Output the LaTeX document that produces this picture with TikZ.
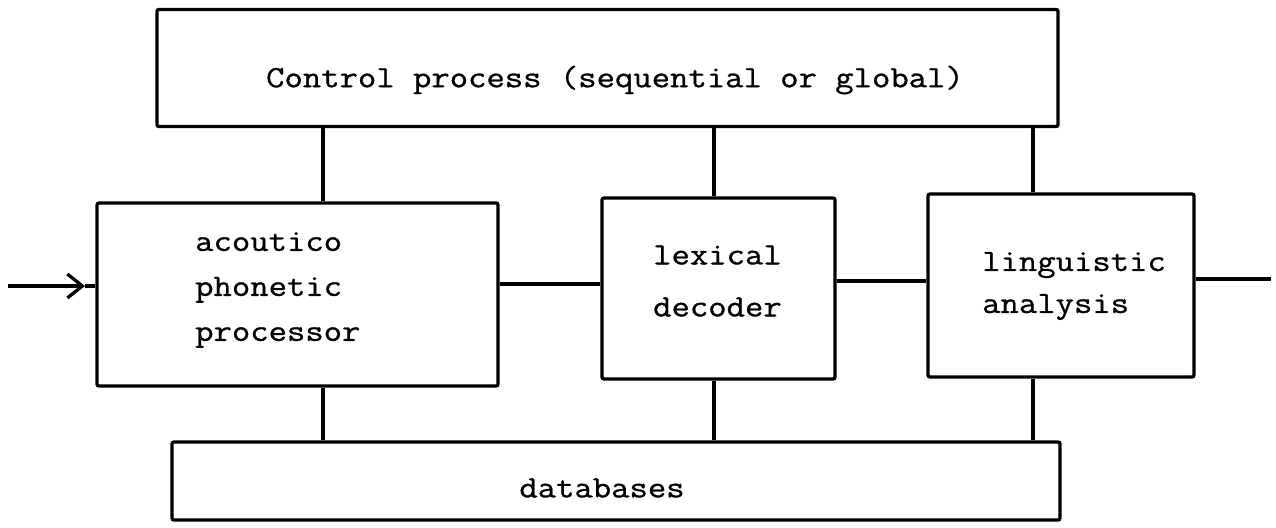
\documentclass[tikz,border=0pt]{standalone}
\usepackage{fontspec}
\newfontfamily\typewriter[FakeStretch=1.15, FakeBold=0.9]{Latin Modern Mono}
\usetikzlibrary{arrows.meta}

\tikzset{
  block/.style={draw, line width=3.3pt, rounded corners=2pt, inner sep=0pt},
  wire/.style={line width=3.3pt},
  inarrow/.style={line width=3.3pt, -{Straight Barb[length=15pt,width=24pt,line width=3.3pt]}},
  label/.style={inner sep=0pt, align=left, anchor=west}
}

\begin{document}
\begin{tikzpicture}[x=1pt, y=-1pt]
  \useasboundingbox (0,0) rectangle (1276,527);

  % boxes
  \node[block, minimum width=901pt, minimum height=117pt] (ctl)  at (607.5,68)  {};
  \node[block, minimum width=401pt, minimum height=183pt] (ap)   at (297.5,294.5) {};
  \node[block, minimum width=233pt, minimum height=181pt] (lex)  at (718.5,288.5) {};
  \node[block, minimum width=266pt, minimum height=183pt] (ling) at (1061,285.5) {};
  \node[block, minimum width=888pt, minimum height=78pt]  (db)   at (616,481)   {};

  % texts
  \node[inner sep=0pt, font=\typewriter\fontsize{31}{36}\selectfont] (tctl) at (615,80)
    {Control process (sequential or global)};
  \node[label, font=\typewriter\fontsize{31}{45}\selectfont] (tap) at (195,290)
    {acoutico\\phonetic\\processor};
  \node[label, font=\typewriter\fontsize{31}{52}\selectfont] (tlex) at (653,281)
    {lexical\\decoder};
  \node[label, font=\typewriter\fontsize{31}{42}\selectfont] (tling) at (982,286)
    {linguistic\\analysis};
  \node[inner sep=0pt, font=\typewriter\fontsize{31}{36}\selectfont] (tdb) at (602,488)
    {databases};

  % column positions of the vertical links
  \coordinate (c1) at (323,0);
  \coordinate (c2) at (714,0);
  \coordinate (c3) at (1033,0);
  % rows of the horizontal links
  \coordinate (r1) at (0,284);
  \coordinate (r2) at (0,281);
  \coordinate (r3) at (0,279);

  % control process to processors
  \draw[wire] (ctl.south -| c1) -- (ap.north -| c1);
  \draw[wire] (ctl.south -| c2) -- (lex.north -| c2);
  \draw[wire] (ctl.south -| c3) -- (ling.north -| c3);

  % processors to databases
  \draw[wire] (ap.south -| c1) -- (db.north -| c1);
  \draw[wire] (lex.south -| c2) -- (db.north -| c2);
  \draw[wire] (ling.south -| c3) -- (db.north -| c3);

  % chain between processors
  \draw[wire] (ap.east |- r1) -- (lex.west |- r1);
  \draw[wire] (lex.east |- r2) -- (ling.west |- r2);
  \coordinate (out) at (1271,279);
  \draw[wire] (ling.east |- r3) -- (out);

  % signal input
  \coordinate (in) at (8,286);
  \coordinate (tip) at (85,286);
  \draw[inarrow] (in) -- (tip);
  \draw[wire] (tip) -- (ap.west |- tip);
\end{tikzpicture}
\end{document}
